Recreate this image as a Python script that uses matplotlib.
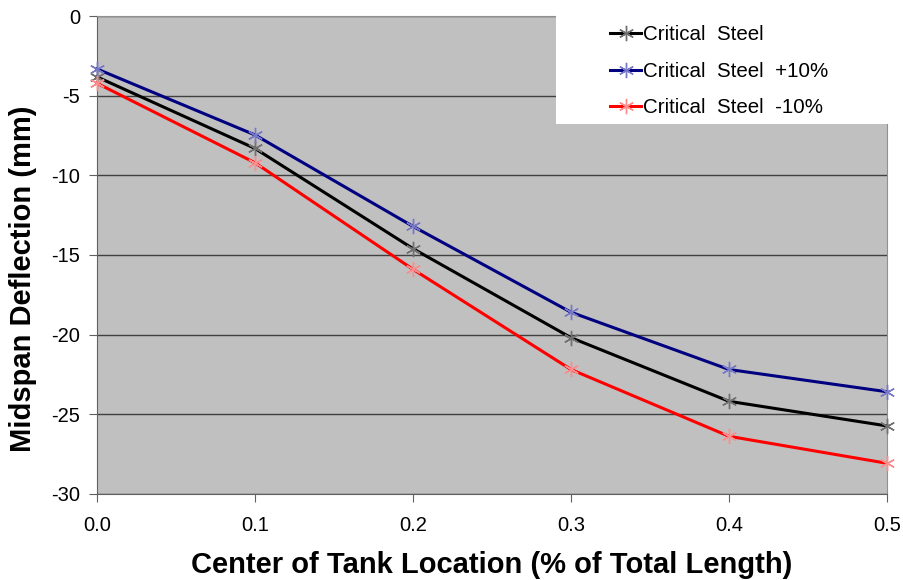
import matplotlib
matplotlib.use("Agg")
import matplotlib.pyplot as plt
from matplotlib.patches import Rectangle

plt.rcParams["font.family"] = ["Liberation Sans", "DejaVu Sans"]
plt.rcParams["axes.unicode_minus"] = False

# Tank position along the span vs. midspan deflection
tank_loc = [0.0, 0.1, 0.2, 0.3, 0.4, 0.5]
critical = [-3.8, -8.3, -14.6, -20.2, -24.2, -25.75]
plus_10 = [-3.3, -7.45, -13.2, -18.6, -22.2, -23.6]
minus_10 = [-4.2, -9.2, -15.9, -22.2, -26.4, -28.1]

series = [
    ("Critical  Steel", critical, "#000000", "#707070"),
    ("Critical  Steel  +10%", plus_10, "#000080", "#7878c8"),
    ("Critical  Steel  -10%", minus_10, "#ff0000", "#ff8c8c"),
]

fig = plt.figure(figsize=(9.04, 5.80), dpi=100)
ax = fig.add_axes([0.1073, 0.1491, 0.8739, 0.8225])
ax.set_facecolor("#c0c0c0")

handles = []
for label, vals, col, mcol in series:
    h, = ax.plot(tank_loc, vals, color=col, lw=2.2, marker=(6, 2, 0),
                 markersize=11, markeredgewidth=1.0, markeredgecolor=mcol,
                 label=label, zorder=3, clip_on=False)
    handles.append(h)

ax.set_xlim(0, 0.5)
ax.set_ylim(-30, 0)
ax.set_xticks(tank_loc)
ax.set_xticklabels([f"{v:.1f}" for v in tank_loc])
ax.set_yticks(range(-30, 1, 5))
ax.yaxis.grid(True, color="#404040", lw=1.0)
ax.set_axisbelow(True)

for side in ["left", "bottom"]:
    ax.spines[side].set_color("#606060")
for side in ["right", "top"]:
    ax.spines[side].set_color("#909090")
ax.tick_params(axis="both", direction="out", length=6, color="#606060",
               labelsize=14.5, pad=6)
ax.tick_params(axis="x", pad=10)

ax.set_xlabel("Center of Tank Location (% of Total Length)", fontsize=21,
              fontweight="bold", labelpad=12)
ax.set_ylabel("Midspan Deflection (mm)", fontsize=21, fontweight="bold")
ax.yaxis.set_label_coords(-0.076, 0.45)

# white legend panel sitting over the top-right of the plot
fig.patches.append(Rectangle((556 / 904, 1 - 124 / 580), (904 - 556) / 904,
                             124 / 580, transform=fig.transFigure,
                             facecolor="white", edgecolor="none", zorder=2))
leg = fig.legend(handles=handles, loc="upper left",
                 bbox_to_anchor=(600 / 904, 1 - 15 / 580), frameon=False,
                 fontsize=14.8, handlelength=1.5, handletextpad=0.1,
                 labelspacing=0.85, borderpad=0)
leg.set_zorder(5)

fig.savefig("out.png", dpi=100)
